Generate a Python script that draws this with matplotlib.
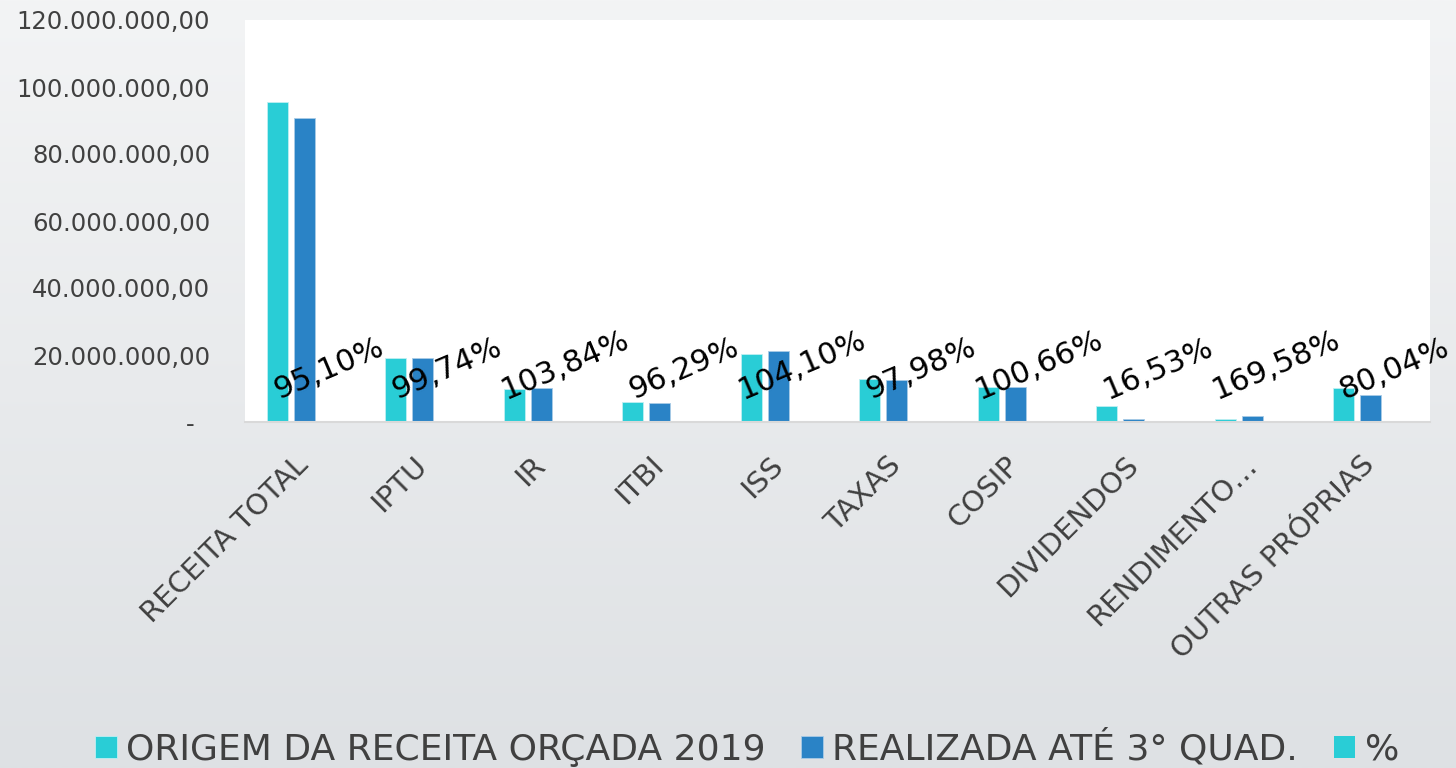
import matplotlib.pyplot as plt
import numpy as np
from matplotlib.colors import to_rgb

categorias = ['RECEITA TOTAL', 'IPTU', 'IR', 'ITBI', 'ISS', 'TAXAS', 'COSIP',
              'DIVIDENDOS', 'RENDIMENTO…', 'OUTRAS PRÓPRIAS']
orcada = [95.4e6, 19.1e6, 9.85e6, 6.0e6, 20.3e6, 12.8e6, 10.4e6, 4.8e6, 1.0e6, 10.1e6]
realizada = [90.73e6, 19.05e6, 10.23e6, 5.78e6, 21.13e6, 12.54e6, 10.47e6, 0.79e6, 1.70e6, 8.08e6]
percentual = [95.10, 99.74, 103.84, 96.29, 104.10, 97.98, 100.66, 16.53, 169.58, 80.04]
legendas = ['ORIGEM DA RECEITA ORÇADA 2019', 'REALIZADA ATÉ 3° QUAD.', '%']

ciano = '#29CDD6'
azul = '#2A83C6'
cinza_texto = '#404040'

fig = plt.figure(figsize=(14.56, 7.68), dpi=100)

# fundo em degrade
bg = fig.add_axes([0, 0, 1, 1], zorder=-10)
topo, base = np.array(to_rgb('#F3F4F5')), np.array(to_rgb('#DEE1E4'))
t = np.linspace(0, 1, 256)[:, None, None]
bg.imshow(topo * (1 - t) + base * t, aspect='auto', extent=(0, 1, 0, 1))
bg.axis('off')

ax = fig.add_axes([245 / 1456, 1 - 422 / 768, (1430 - 245) / 1456, (422 - 20) / 768])
ax.set_facecolor('white')

x = np.arange(len(categorias))
w = 0.18
d = 0.228
ax.bar(x - d, orcada, w, color=ciano, edgecolor='#BFEFF2', linewidth=0.6, label=legendas[0])
ax.bar(x, realizada, w, color=azul, edgecolor='#A9CBE6', linewidth=0.6, label=legendas[1])
ax.bar(x + d, [p / 100 for p in percentual], w, color=ciano, label=legendas[2])

for xi, p in zip(x + d, percentual):
    txt = f'{p:.2f}%'.replace('.', ',')
    ax.annotate(txt, xy=(xi, p / 100), xytext=(-2, 12), textcoords='offset points',
                ha='center', va='bottom', rotation=23, fontsize=22, color='black')

ax.set_xlim(-0.5, len(categorias) - 0.5)
ax.set_ylim(0, 120e6)
ax.set_yticks(np.arange(0, 120e6 + 1, 20e6))


def fmt(v):
    if v == 0:
        return '-  '
    return f'{v:,.2f}'.replace(',', 'X').replace('.', ',').replace('X', '.')


ax.set_yticklabels([fmt(v) for v in ax.get_yticks()], fontsize=17.5, color=cinza_texto)
ax.tick_params(axis='y', length=0, pad=25)
ax.set_xticks(x)
ax.set_xticklabels(categorias, rotation=45, ha='right', va='center',
                   rotation_mode='anchor', fontsize=21, color=cinza_texto)
ax.tick_params(axis='x', length=0, pad=28)

for s in ['top', 'right', 'left']:
    ax.spines[s].set_visible(False)
ax.spines['bottom'].set_color('#D9D9D9')
ax.spines['bottom'].set_linewidth(1.5)

fig.legend(loc='center', bbox_to_anchor=(0.513, 1 - 748 / 768), ncol=3, frameon=False,
           fontsize=26, handlelength=0.6, handleheight=0.6, handletextpad=0.25,
           columnspacing=1.0, labelcolor=cinza_texto)

fig.savefig('out.png', dpi=100)
